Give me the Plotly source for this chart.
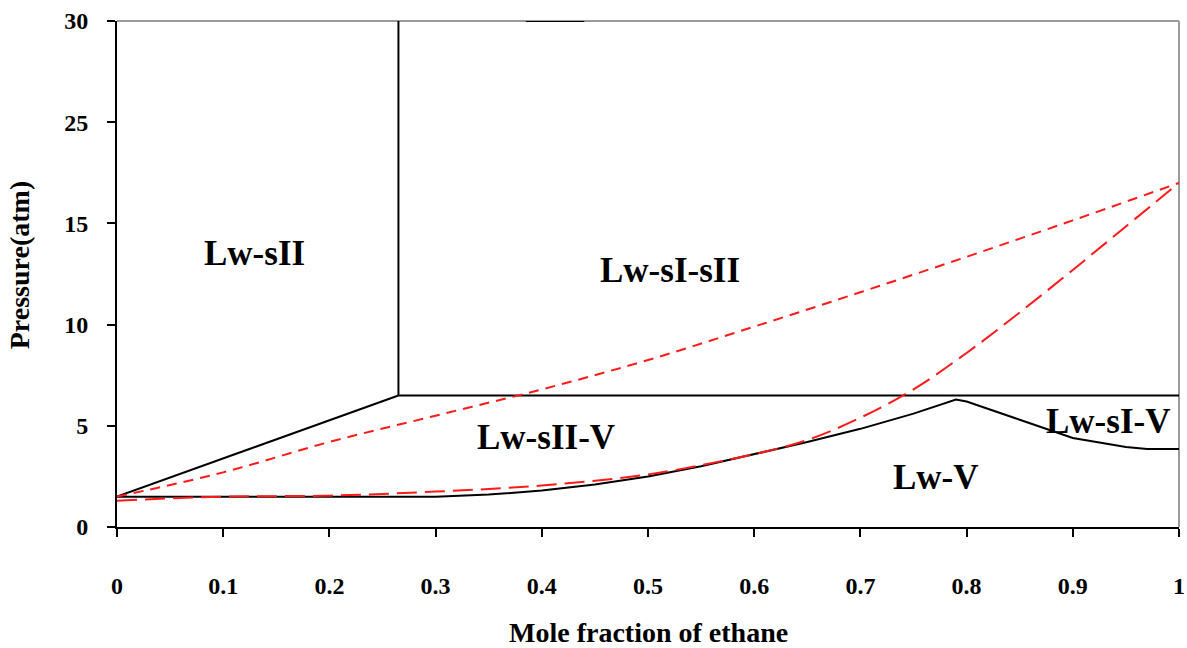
import plotly.graph_objects as go

# ---- data ----
ytick_vals = [0, 5, 10, 15, 20, 25]
ytick_text = ["0", "5", "10", "15", "25", "30"]
xtick_vals = [0, 0.1, 0.2, 0.3, 0.4, 0.5, 0.6, 0.7, 0.8, 0.9, 1.0]
xtick_text = ["0", "0.1", "0.2", "0.3", "0.4", "0.5", "0.6", "0.7", "0.8", "0.9", "1"]

# black phase boundaries
diag_x = [0.0, 0.265]
diag_y = [1.5, 6.5]
vert_x = [0.265, 0.265]
vert_y = [6.5, 25.0]
horiz_x = [0.265, 1.0]
horiz_y = [6.5, 6.5]
lower_x = [0.0, 0.1, 0.2, 0.3, 0.35, 0.4, 0.45, 0.5, 0.55, 0.6, 0.65, 0.7, 0.75, 0.79, 0.8, 0.85, 0.9, 0.95, 0.97, 1.0]
lower_y = [1.5, 1.5, 1.5, 1.5, 1.6, 1.8, 2.1, 2.5, 3.0, 3.6, 4.2, 4.85, 5.6, 6.3, 6.2, 5.3, 4.4, 3.95, 3.85, 3.85]
top_seg_x = [0.385, 0.44]
top_seg_y = [25.0, 25.0]

# red predicted curves
red_up_x = [0.0, 0.1, 0.2, 0.3, 0.4, 0.5, 0.6, 0.7, 0.8, 0.9, 1.0]
red_up_y = [1.5, 2.7, 4.2, 5.5, 6.8, 8.25, 9.9, 11.6, 13.35, 15.15, 17.0]
red_lo_x = [0.0, 0.1, 0.2, 0.3, 0.4, 0.5, 0.6, 0.65, 0.7, 0.75, 0.8, 0.85, 0.9, 0.95, 1.0]
red_lo_y = [1.3, 1.5, 1.55, 1.75, 2.05, 2.6, 3.6, 4.3, 5.4, 6.8, 8.6, 10.6, 12.7, 14.85, 17.0]

# region labels
label_text = ["Lw-sII", "Lw-sI-sII", "Lw-sII-V", "Lw-sI-V", "Lw-V"]
label_x = [0.129, 0.521, 0.404, 0.933, 0.771]
label_y = [13.5, 12.65, 4.4, 5.2, 2.45]

FONT = "Liberation Serif"

fig = go.Figure()
for xs, ys in [(diag_x, diag_y), (vert_x, vert_y), (horiz_x, horiz_y), (lower_x, lower_y), (top_seg_x, top_seg_y)]:
    fig.add_trace(go.Scatter(x=xs, y=ys, mode="lines", line=dict(color="black", width=2),
                             showlegend=False, cliponaxis=False, hoverinfo="skip"))
fig.add_trace(go.Scatter(x=red_up_x, y=red_up_y, mode="lines", line_shape="spline",
                         line=dict(color="#ff1a1a", width=2, dash="10px,7px"),
                         showlegend=False, cliponaxis=False))
fig.add_trace(go.Scatter(x=red_lo_x, y=red_lo_y, mode="lines", line_shape="spline",
                         line=dict(color="#ff1a1a", width=2, dash="20px,8px"),
                         showlegend=False, cliponaxis=False))

for t, x, y in zip(label_text, label_x, label_y):
    fig.add_annotation(x=x, y=y, text=t, showarrow=False,
                       font=dict(family=FONT, size=35, color="black", weight="bold"))

fig.add_annotation(x=0.5, y=-0.209, xref="paper", yref="paper", text="Mole fraction of ethane",
                   showarrow=False, yanchor="middle",
                   font=dict(family=FONT, size=28, color="black", weight="bold"))
fig.add_annotation(x=-0.091, y=0.518, xref="paper", yref="paper", text="Pressure(atm)",
                   showarrow=False, textangle=-90, xanchor="center", yanchor="middle",
                   font=dict(family=FONT, size=28, color="black", weight="bold"))

# gray top/right frame
fig.add_shape(type="line", xref="paper", yref="paper", x0=0, x1=1, y0=1, y1=1, layer="below",
              line=dict(color="#9a9a9a", width=2))
fig.add_shape(type="line", xref="paper", yref="paper", x0=1, x1=1, y0=0, y1=1, layer="below",
              line=dict(color="#9a9a9a", width=2))

fig.update_layout(
    width=1187, height=648,
    margin=dict(l=117, r=2, t=21, b=121),
    plot_bgcolor="white", paper_bgcolor="white",
    font=dict(family=FONT, color="black"),
)
fig.update_xaxes(range=[0, 1], tickvals=xtick_vals, ticktext=xtick_text,
                 showgrid=False, zeroline=False, showline=True, linecolor="black", linewidth=2,
                 ticks="outside", ticklen=8, tickwidth=2, tickcolor="black",
                 ticklabelstandoff=28, ticklabeloverflow="allow",
                 tickfont=dict(family=FONT, size=24, color="black", weight="bold"))
fig.update_yaxes(range=[0, 25], tickvals=ytick_vals, ticktext=ytick_text,
                 showgrid=False, zeroline=False, showline=True, linecolor="black", linewidth=2,
                 ticks="outside", ticklen=8, tickwidth=2, tickcolor="black",
                 ticklabelstandoff=14,
                 tickfont=dict(family=FONT, size=24, color="black", weight="bold"))

fig.write_html("out.html", config={"displayModeBar": False},
               post_script="document.body.style.margin='0';document.body.style.overflow='hidden';")
